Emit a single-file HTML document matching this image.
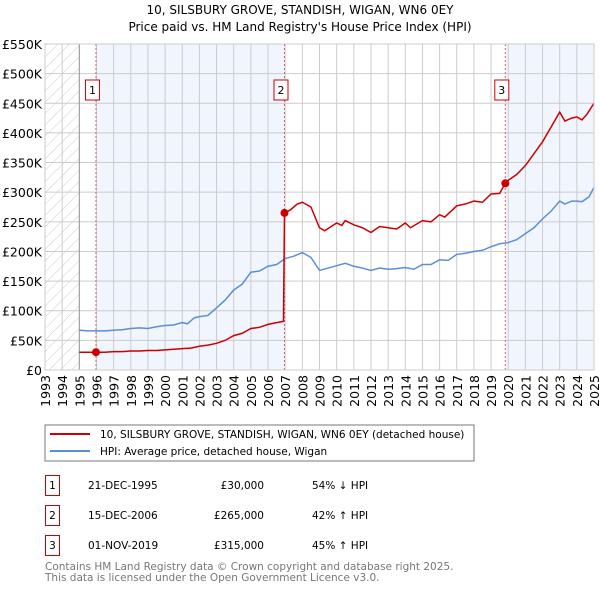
<!DOCTYPE html>
<html><head><meta charset="utf-8"><style>
body{margin:0;background:#fff;}
svg{display:block;font-family:"DejaVu Sans","Liberation Sans",sans-serif;}
</style></head><body>
<svg id="chart" width="600" height="590" viewBox="0 0 600 590">
<defs><pattern id="hatch" width="8" height="8" patternUnits="userSpaceOnUse" patternTransform="rotate(45)"><line x1="0" y1="0" x2="0" y2="8" stroke="#ccc" stroke-width="1"/></pattern></defs>
<text x="300" y="14" text-anchor="middle" font-size="12">10, SILSBURY GROVE, STANDISH, WIGAN, WN6 0EY</text>
<text x="300" y="31" text-anchor="middle" font-size="12">Price paid vs. HM Land Registry's House Price Index (HPI)</text>
<g id="plot"></g>
<rect x="45" y="425" width="429" height="36" fill="#fff" stroke="#777"/>
<line x1="50" y1="434" x2="90" y2="434" stroke="#cc0000" stroke-width="2"/>
<text x="100" y="438" font-size="10.5">10, SILSBURY GROVE, STANDISH, WIGAN, WN6 0EY (detached house)</text>
<line x1="50" y1="451" x2="90" y2="451" stroke="#5b8fd4" stroke-width="2"/>
<text x="100" y="455" font-size="10.5">HPI: Average price, detached house, Wigan</text>
<g font-size="10.5">
<rect x="45.5" y="475.5" width="14" height="20" fill="#fff" stroke="#cc0000"/><text x="52.5" y="489" text-anchor="middle">1</text>
<text x="88" y="489">21-DEC-1995</text><text x="264" y="489" text-anchor="end">£30,000</text><text x="312" y="489">54% ↓ HPI</text>
<rect x="45.5" y="505.5" width="14" height="20" fill="#fff" stroke="#cc0000"/><text x="52.5" y="519" text-anchor="middle">2</text>
<text x="88" y="519">15-DEC-2006</text><text x="264" y="519" text-anchor="end">£265,000</text><text x="312" y="519">42% ↑ HPI</text>
<rect x="45.5" y="535.5" width="14" height="20" fill="#fff" stroke="#cc0000"/><text x="52.5" y="549" text-anchor="middle">3</text>
<text x="88" y="549">01-NOV-2019</text><text x="264" y="549" text-anchor="end">£315,000</text><text x="312" y="549">45% ↑ HPI</text>
</g>
<text x="45" y="570" font-size="10.5" fill="#777">Contains HM Land Registry data © Crown copyright and database right 2025.</text>
<text x="45" y="581" font-size="10.5" fill="#777">This data is licensed under the Open Government Licence v3.0.</text>
</svg>
<script>
const yTicks=[0,50,100,150,200,250,300,350,400,450,500,550];
const yTickLabels=["£0","£50K","£100K","£150K","£200K","£250K","£300K","£350K","£400K","£450K","£500K","£550K"];
const xYears=[1993,1994,1995,1996,1997,1998,1999,2000,2001,2002,2003,2004,2005,2006,2007,2008,2009,2010,2011,2012,2013,2014,2015,2016,2017,2018,2019,2020,2021,2022,2023,2024,2025];
const hpiDates=[1995,1995.5,1996,1996.5,1997,1997.5,1998,1998.5,1999,1999.5,2000,2000.5,2001,2001.3,2001.7,2002,2002.5,2003,2003.5,2004,2004.5,2005,2005.5,2006,2006.5,2007,2007.5,2008,2008.5,2009,2009.5,2010,2010.5,2011,2011.5,2012,2012.5,2013,2013.5,2014,2014.5,2015,2015.5,2016,2016.5,2017,2017.5,2018,2018.5,2019,2019.5,2020,2020.5,2021,2021.5,2022,2022.5,2023,2023.3,2023.7,2024,2024.3,2024.7,2025];
const hpiValues=[67,66,66,66,67,68,70,71,70,73,75,76,80,78,88,90,92,105,118,135,145,165,167,175,178,188,192,198,190,168,172,176,180,175,172,168,172,170,171,173,170,178,178,186,185,195,197,200,202,208,213,215,220,230,240,255,268,285,280,285,285,284,292,308];
const propDates=[1995,1995.97,1996.5,1997,1997.5,1998,1998.5,1999,1999.5,2000,2000.5,2001,2001.5,2002,2002.5,2003,2003.5,2004,2004.5,2005,2005.5,2006,2006.5,2006.9,2006.96,2007.3,2007.7,2008,2008.5,2009,2009.3,2010,2010.3,2010.5,2011,2011.5,2012,2012.5,2013,2013.5,2014,2014.3,2015,2015.5,2016,2016.3,2017,2017.5,2018,2018.5,2019,2019.5,2019.83,2020,2020.5,2021,2021.5,2022,2022.5,2023,2023.3,2023.7,2024,2024.3,2024.6,2025];
const propValues=[30,30,30,31,31,32,32,33,33,34,35,36,37,40,42,45,50,58,62,70,72,77,80,82,265,270,280,283,275,240,235,248,244,252,245,240,232,242,240,238,248,240,252,250,262,258,277,280,285,283,297,298,315,320,330,345,365,385,410,435,420,425,427,422,432,450];
const saleDates=[1995.97,2006.96,2019.83];
const saleValues=[30,265,315];
const saleLabels=["1","2","3"];
const X0=45,X1=594,Y0=370,Y1=44;
function xs(t){return X0+(t-1993)/(2025-1993)*(X1-X0);}
function ys(v){return Y0-v/550*(Y0-Y1);}
const NS="http://www.w3.org/2000/svg";
const g=document.getElementById('plot');
function mk(tag,attrs,parent){const e=document.createElementNS(NS,tag);for(const k in attrs)e.setAttribute(k,attrs[k]);(parent||g).appendChild(e);return e;}
let r;
r=mk('rect',{x:X0,y:Y1,width:X1-X0,height:Y0-Y1,fill:'#fff'});


r=mk('rect',{x:X0,y:Y1,width:xs(1995)-X0,height:Y0-Y1,fill:'url(#hatch)'});


r=mk('rect',{x:xs(saleDates[0]),y:Y1,width:xs(saleDates[1])-xs(saleDates[0]),height:Y0-Y1,fill:'#eef3fc',opacity:0.8});


r=mk('rect',{x:xs(saleDates[2]),y:Y1,width:X1-xs(saleDates[2]),height:Y0-Y1,fill:'#eef3fc',opacity:0.8});


yTicks.forEach((v,i)=>{
 const l=mk('line',{x1:X0,x2:X1,y1:ys(v),y2:ys(v),stroke:'#ccc','stroke-width':1});
 
 
 const t=mk('text',{x:X0-3,y:ys(v)+5,'text-anchor':'end','font-size':12.5});
 t.textContent=yTickLabels[i];
 
 
});
xYears.forEach(yr=>{
 const l=mk('line',{x1:xs(yr),x2:xs(yr),y1:Y1,y2:Y0,stroke:'#ccc','stroke-width':1});
 
 
 const t=mk('text',{x:0,y:0,'text-anchor':'end','font-size':12.5,transform:`translate(${xs(yr)+5},${Y0+5}) rotate(-90)`});
 t.textContent=yr;
 
 
});
r=mk('line',{x1:xs(1995),x2:xs(1995),y1:Y1,y2:Y0,stroke:'#999'});


saleDates.forEach((d,i)=>{
 const l=mk('line',{x1:xs(d),x2:xs(d),y1:Y1,y2:Y0,stroke:'#e06060','stroke-dasharray':'2,2'});
 
 
});
const hp=mk('polyline',{points:hpiDates.map((d,i)=>xs(d)+','+ys(hpiValues[i])).join(' '),fill:'none',stroke:'#5b8fd4','stroke-width':1.5});


const pp=mk('polyline',{points:propDates.map((d,i)=>xs(d)+','+ys(propValues[i])).join(' '),fill:'none',stroke:'#cc0000','stroke-width':1.5});


saleDates.forEach((d,i)=>{
 const c=mk('circle',{cx:xs(d),cy:ys(saleValues[i]),r:4,fill:'#cc0000'});
 
 
 const bx=xs(d)-10.5;
 const b=mk('rect',{x:bx,y:80,width:14,height:20,fill:'#fff',stroke:'#cc0000'});
 
 
 const t=mk('text',{x:bx+7,y:94,'text-anchor':'middle','font-size':11});
 t.textContent=saleLabels[i];
 
 
});
r=mk('rect',{x:X0,y:Y1,width:X1-X0,height:Y0-Y1,fill:'none',stroke:'#ccc'});


</script>
</body></html>
